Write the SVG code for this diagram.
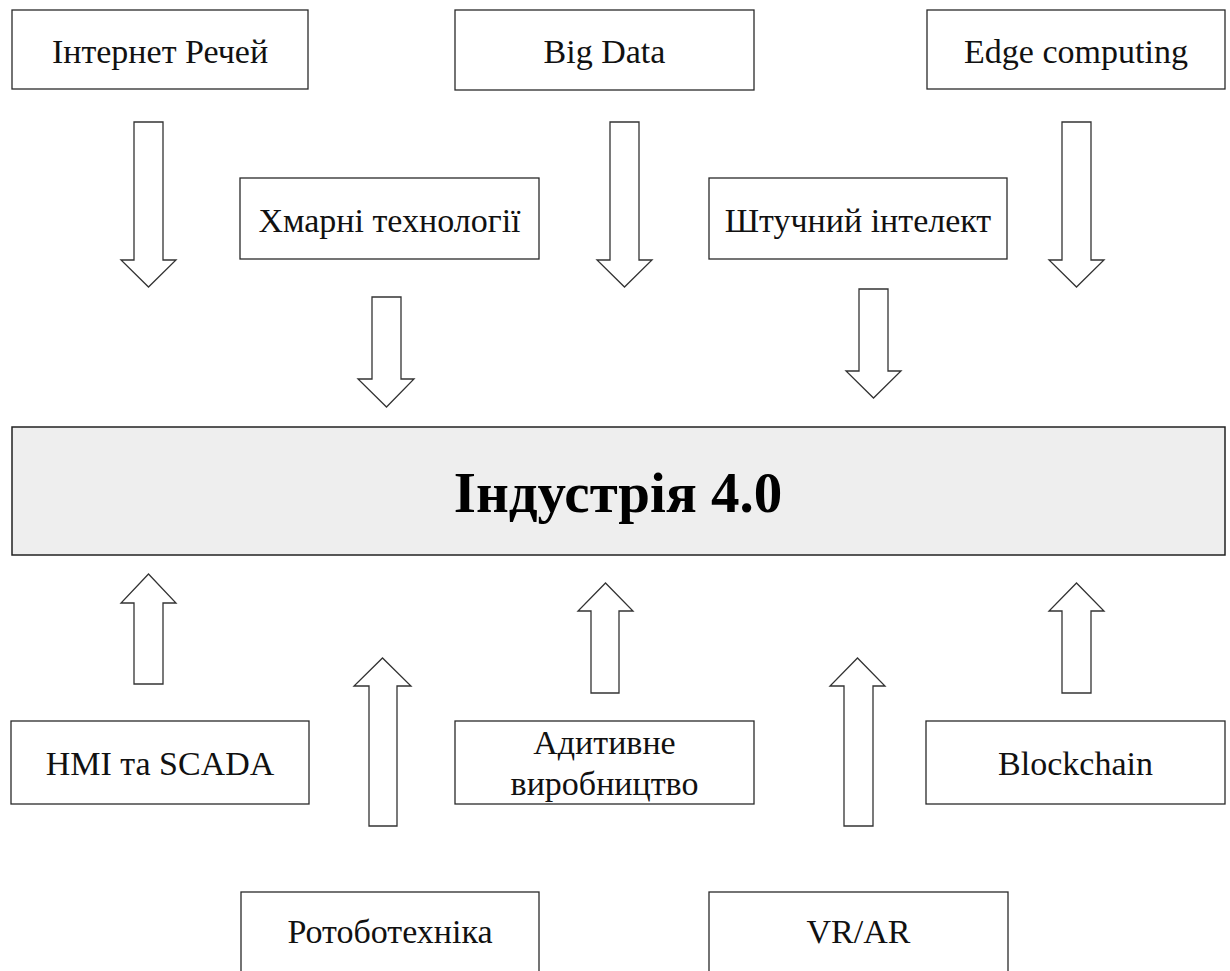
<svg xmlns="http://www.w3.org/2000/svg" width="1230" height="971" viewBox="0 0 1230 971">
<style>
.box{fill:#fff;stroke:#2a2a2a;stroke-width:1.3}
.main{fill:#eeeeee;stroke:#222;stroke-width:1.5}
.arr{fill:#fff;stroke:#333;stroke-width:1.3;stroke-linejoin:miter}
.t{font-family:"Liberation Serif","Times New Roman",serif;font-size:34px;fill:#111;text-anchor:middle}
.title{font-family:"Liberation Serif","Times New Roman",serif;font-size:57px;font-weight:bold;fill:#000;text-anchor:middle}
</style>
<rect width="1230" height="971" fill="#fff"/>
<g id="connectors">
<polygon class="arr" points="134,122 163,122 163,260 176,260 148.5,287 121,260 134,260"/>
<polygon class="arr" points="610,122 639,122 639,260 652,260 624.5,287 597,260 610,260"/>
<polygon class="arr" points="1062,122 1091,122 1091,260 1104,260 1076.5,287 1049,260 1062,260"/>
<polygon class="arr" points="372,297 401,297 401,379 414,379 386.5,407 358,379 372,379"/>
<polygon class="arr" points="859,289 888,289 888,371 901,371 873.5,398 846,371 859,371"/>
<polygon class="arr" points="134,684 163,684 163,603 176,603 148.5,574 121,603 134,603"/>
<polygon class="arr" points="369,826 397,826 397,686 411,686 382.5,658 354,686 369,686"/>
<polygon class="arr" points="591,693 619,693 619,611 633,611 605.5,583 578,611 591,611"/>
<polygon class="arr" points="844,826 873,826 873,686 885,686 857.5,658 830,686 844,686"/>
<polygon class="arr" points="1062,693 1091,693 1091,611 1104,611 1076.5,583 1049,611 1062,611"/>
</g>
<g id="n-iot"><rect class="box" x="12" y="10" width="296" height="79"/><text class="t" x="160" y="63">Інтернет Речей</text></g>
<g id="n-bigdata"><rect class="box" x="455" y="10" width="299" height="80"/><text class="t" x="604.5" y="63">Big Data</text></g>
<g id="n-edge"><rect class="box" x="927" y="10" width="298" height="79"/><text class="t" x="1076" y="63">Edge computing</text></g>
<g id="n-cloud"><rect class="box" x="240" y="178" width="299" height="81"/><text class="t" x="389.5" y="232">Хмарні технології</text></g>
<g id="n-ai"><rect class="box" x="709" y="178" width="298" height="81"/><text class="t" x="858" y="232">Штучний інтелект</text></g>
<g id="n-main"><rect class="main" x="12" y="427" width="1213" height="128"/><text class="title" x="618" y="512">Індустрія 4.0</text></g>
<g id="n-hmi"><rect class="box" x="11" y="721" width="298" height="83"/><text class="t" x="160" y="775">HMI та SCADA</text></g>
<g id="n-additive"><rect class="box" x="455" y="721" width="299" height="83"/><text class="t" x="604.5" y="754">Адитивне</text><text class="t" x="604.5" y="795">виробництво</text></g>
<g id="n-blockchain"><rect class="box" x="926" y="721" width="299" height="83"/><text class="t" x="1075.5" y="775">Blockchain</text></g>
<g id="n-robot"><rect class="box" x="241" y="892" width="298" height="90"/><text class="t" x="390" y="943">Ротоботехніка</text></g>
<g id="n-vrar"><rect class="box" x="709" y="892" width="299" height="90"/><text class="t" x="858.5" y="943">VR/AR</text></g>
</svg>
